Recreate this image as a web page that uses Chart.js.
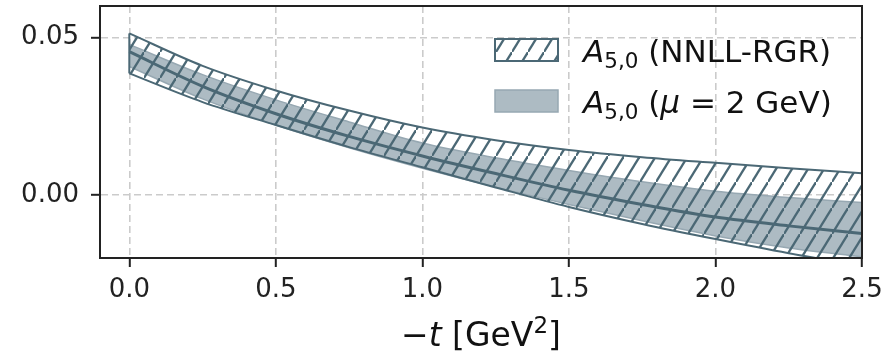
<!DOCTYPE html>
<html>
<head>
<meta charset="utf-8">
<script src="https://cdn.jsdelivr.net/npm/chart.js@4.4.1/dist/chart.umd.min.js"></script>
<style>
  html, body { margin: 0; padding: 0; background: #fff; }
  #wrap { width: 887px; height: 355px; }
</style>
</head>
<body>
<div id="wrap"><canvas id="chart" width="887" height="355"></canvas></div>
<script>
// -t grid in GeV^2
const tValues = [0, 0.25, 0.5, 0.75, 1.0, 1.25, 1.5, 1.75, 2.0, 2.25, 2.5];

// A_{5,0} from NNLL-RGR evolution: band edges and central curve
const rgrUpper = [0.0513, 0.0410, 0.0332, 0.0268, 0.0214, 0.0174, 0.0143, 0.0120, 0.0102, 0.0085, 0.0069];
const rgrCentral = [0.0455, 0.0345, 0.0258, 0.0186, 0.0124, 0.0068, 0.0015, -0.0030, -0.0070, -0.0098, -0.0122];
const rgrLower = [0.0386, 0.0295, 0.0222, 0.0152, 0.0088, 0.0024, -0.0038, -0.0092, -0.0140, -0.0185, -0.0225];

// A_{5,0} at mu = 2 GeV
const fixedUpper = [0.0478, 0.0382, 0.0302, 0.0232, 0.0165, 0.0118, 0.0078, 0.0042, 0.0012, -0.0008, -0.0024];
const fixedLower = [0.0408, 0.0305, 0.0222, 0.0150, 0.0085, 0.0025, -0.0030, -0.0082, -0.0130, -0.0168, -0.0196];

const xTicks = [0, 0.5, 1.0, 1.5, 2.0, 2.5];
const yTicks = [0, 0.05];

const SLATE = '#4b6875';
const GREY_FILL = '#adbbc3';
const GREY_EDGE = '#97a8b2';
const AXIS = '#222';
const FONT = '"DejaVu Sans", sans-serif';

function makeHatch() {
  const w = 16, h = 26;
  const tile = document.createElement('canvas');
  tile.width = w;
  tile.height = h;
  const c = tile.getContext('2d');
  c.strokeStyle = SLATE;
  c.lineWidth = 2.3;
  c.beginPath();
  c.moveTo(-w, 2 * h);
  c.lineTo(2 * w, -h);
  c.stroke();
  return c.createPattern(tile, 'repeat');
}
const hatch = makeHatch();

const pts = (ys) => tValues.map((t, i) => ({ x: t, y: ys[i] }));

function drawRich(ctx, x, y, parts) {
  for (const p of parts) {
    ctx.font = p.font;
    ctx.fillText(p.text, x, y + (p.dy || 0));
    x += ctx.measureText(p.text).width;
  }
  return x;
}

function richWidth(ctx, parts) {
  let w = 0;
  for (const p of parts) {
    ctx.font = p.font;
    w += ctx.measureText(p.text).width;
  }
  return w;
}

const decorations = {
  id: 'decorations',
  afterDraw(chart) {
    const { ctx, chartArea: a } = chart;
    ctx.save();

    // full frame (matplotlib-style spines)
    ctx.strokeStyle = AXIS;
    ctx.lineWidth = 2;
    ctx.strokeRect(a.left, a.top, a.right - a.left, a.bottom - a.top);

    // legend
    const px = a.right - 367, pw = 63, ph = 22;
    ctx.fillStyle = hatch;
    ctx.fillRect(px, 39, pw, ph);
    ctx.strokeStyle = SLATE;
    ctx.lineWidth = 2;
    ctx.strokeRect(px, 39, pw, ph);
    ctx.fillStyle = GREY_FILL;
    ctx.fillRect(px, 90, pw, ph);
    ctx.strokeStyle = GREY_EDGE;
    ctx.lineWidth = 1.5;
    ctx.strokeRect(px, 90, pw, ph);

    const big = `31px ${FONT}`;
    const ital = `italic 31px ${FONT}`;
    const sub = `21.5px ${FONT}`;
    ctx.fillStyle = '#111';
    ctx.textBaseline = 'alphabetic';
    const tx = a.right - 279;
    drawRich(ctx, tx, 62, [
      { text: 'A', font: ital },
      { text: '5,0', font: sub, dy: 6 },
      { text: ' (NNLL-RGR)', font: big }
    ]);
    drawRich(ctx, tx, 113, [
      { text: 'A', font: ital },
      { text: '5,0', font: sub, dy: 6 },
      { text: ' (', font: big },
      { text: 'μ', font: ital },
      { text: ' = 2 GeV)', font: big }
    ]);

    // x-axis title: -t [GeV^2]
    const tf = `33px ${FONT}`;
    const title = [
      { text: '\u2212', font: tf },
      { text: 't', font: `italic 33px ${FONT}` },
      { text: ' [GeV', font: tf },
      { text: '2', font: `23px ${FONT}`, dy: -13 },
      { text: ']', font: tf }
    ];
    const w = richWidth(ctx, title);
    drawRich(ctx, (a.left + a.right) / 2 - w / 2, 346, title);

    ctx.restore();
  }
};

const tickFont = { family: FONT, size: 26 };

new Chart(document.getElementById('chart'), {
  type: 'line',
  data: {
    datasets: [
      { data: pts(fixedUpper), borderColor: GREY_EDGE, borderWidth: 1.5, backgroundColor: GREY_FILL, fill: 1, order: 5 },
      { data: pts(fixedLower), borderColor: GREY_EDGE, borderWidth: 1.5, fill: false, order: 4 },
      { data: pts(rgrUpper), borderColor: SLATE, borderWidth: 2, backgroundColor: hatch, fill: 3, order: 3 },
      { data: pts(rgrLower), borderColor: SLATE, borderWidth: 2, fill: false, order: 2 },
      { data: pts(rgrCentral), borderColor: SLATE, borderWidth: 3, fill: false, order: 1 },
      {
        data: [{ x: tValues[0], y: rgrLower[0] }, { x: tValues[0], y: rgrUpper[0] }],
        borderColor: SLATE, borderWidth: 2, fill: false, order: 1
      }
    ]
  },
  options: {
    responsive: false,
    animation: false,
    events: [],
    layout: { padding: { top: 6, right: 25, left: 0, bottom: 0 } },
    elements: {
      point: { radius: 0 },
      line: { cubicInterpolationMode: 'monotone' }
    },
    plugins: { legend: { display: false }, tooltip: { enabled: false } },
    scales: {
      x: {
        type: 'linear',
        min: -0.1,
        max: 2.5,
        afterBuildTicks: (s) => { s.ticks = xTicks.map((v) => ({ value: v })); },
        afterFit: (s) => { s.height = 97; s.paddingLeft = 0; s.paddingRight = 0; },
        ticks: { callback: (v) => v.toFixed(1), font: tickFont, color: AXIS, padding: 8, maxRotation: 0 },
        grid: { color: '#cbcbcb', lineWidth: 1.6, tickColor: AXIS, tickLength: 9, tickWidth: 2 },
        border: { color: AXIS, width: 2, dash: [7, 4] }
      },
      y: {
        min: -0.02,
        max: 0.06,
        afterBuildTicks: (s) => { s.ticks = yTicks.map((v) => ({ value: v })); },
        afterFit: (s) => { s.width = 100; s.paddingTop = 0; s.paddingBottom = 0; },
        ticks: { callback: (v) => v.toFixed(2), font: tickFont, color: AXIS, padding: 12 },
        grid: { color: '#cbcbcb', lineWidth: 1.6, tickColor: AXIS, tickLength: 9, tickWidth: 2 },
        border: { color: AXIS, width: 2, dash: [7, 4] }
      }
    }
  },
  plugins: [decorations]
});
</script>
</body>
</html>
